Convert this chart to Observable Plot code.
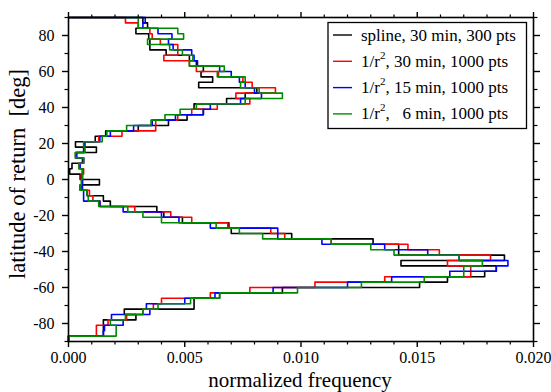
<!DOCTYPE html>
<html><head><meta charset="utf-8">
<script src="https://cdn.jsdelivr.net/npm/d3@7"></script>
<script src="https://cdn.jsdelivr.net/npm/@observablehq/plot@0.6"></script>
<style>
body{margin:0;background:#fff;}
#chart{width:551px;height:392px;}
</style></head><body><div id="chart"></div>
<script>
// Histogram bins: 3-degree latitude bins from +90 (top) down to -90
const latTop = 90;
const binWidth = 3;

const legendLabels = ["spline, 30 min, 300 pts", "30 min, 1000 pts", "15 min, 1000 pts", "  6 min, 1000 pts"];
const seriesColors = ["#000000", "#ff0000", "#0000ff", "#008b00"];

const splineValues = [0.0032,0.0034,0.0029,0.00345,0.0035,0.0035,0.0042,0.0052,0.0055,0.0058,0.0057,0.0062,0.0056,0.0081,0.0076,0.0068,0.0054,0.0058,0.0051,0.0043,0.0030,0.0016,0.00115,0.0003,0.0012,0.0003,0.0006,0.00015,0.00005,0.0005,0.00133,0.0005,0.0008,0.0015,0.0018,0.0038,0.0041,0.0049,0.0069,0.0070,0.0096,0.0131,0.0142,0.0142,0.01875,0.0143,0.0184,0.0179,0.0163,0.0151,0.0092,0.0065,0.0054,0.0054,0.0024,0.0029,0.0015,0.0015,0.0015,0];
const r2_30minValues = [0.00245,0.0030,0.0035,0.0036,0.00395,0.0047,0.0047,0.0041,0.0052,0.0055,0.00645,0.0075,0.0079,0.0089,0.0072,0.0078,0.0064,0.0053,0.0047,0.00375,0.00375,0.0023,0.0013,0.0007,0.0007,0.00035,0.00065,0.00045,0.00065,0.00055,0.0006,0.00055,0.0009,0.00105,0.00135,0.00285,0.0044,0.0053,0.00685,0.0087,0.0093,0.0113,0.0146,0.01595,0.01815,0.0163,0.0173,0.0173,0.0136,0.0106,0.0078,0.0061,0.0040,0.00365,0.0032,0.0025,0.0017,0.0012,0.0012,0];
const r2_15minValues = [0.0033,0.0032,0.00385,0.00445,0.0043,0.0045,0.0053,0.0054,0.00555,0.0065,0.0070,0.00735,0.0076,0.0080,0.0083,0.0074,0.0061,0.0058,0.0046,0.0036,0.0028,0.0018,0.00135,0.0007,0.00065,0.00035,0.00065,0.0005,0.0006,0.0006,0.0006,0.0006,0.00065,0.00065,0.00135,0.00235,0.0040,0.00475,0.0061,0.0090,0.0090,0.0109,0.0136,0.01545,0.0168,0.0189,0.0184,0.0164,0.0139,0.0120,0.0088,0.0063,0.0050,0.00335,0.0035,0.00185,0.00235,0.00155,0.0015,0];
const r2_6minValues = [0.0030,0.0030,0.0047,0.00495,0.0034,0.00435,0.0049,0.00535,0.0052,0.0067,0.0064,0.0076,0.0074,0.0082,0.0092,0.0076,0.0055,0.0048,0.00415,0.00355,0.0025,0.00165,0.00145,0.00065,0.0007,0.0003,0.00065,0.00045,0.0006,0.0006,0.00055,0.0005,0.0008,0.00085,0.0013,0.00255,0.0032,0.0040,0.00635,0.00735,0.00835,0.0113,0.0130,0.0140,0.0168,0.0178,0.0170,0.0170,0.0153,0.0126,0.00985,0.0065,0.00525,0.00385,0.0032,0.00245,0.0018,0.00205,0.00205,0];

const xMajorTicks = [0, 0.005, 0.010, 0.015, 0.020];
const xMinorTicks = [0.001,0.002,0.003,0.004,0.006,0.007,0.008,0.009,0.011,0.012,0.013,0.014,0.016,0.017,0.018,0.019];
const yMajorTicks = [-80, -60, -40, -20, 0, 20, 40, 60, 80];
const yMinorTicks = [-90, -70, -50, -30, -10, 10, 30, 50, 70, 90];

const allSeries = [splineValues, r2_30minValues, r2_15minValues, r2_6minValues];

function stepPoints(values) {
  const pts = [{x: 0, y: latTop}];
  values.forEach((v, k) => {
    pts.push({x: v, y: latTop - k * binWidth});
    pts.push({x: v, y: latTop - (k + 1) * binWidth});
  });
  pts.push({x: 0, y: latTop - values.length * binWidth});
  return pts;
}

const font = "'Liberation Serif', 'Times New Roman', serif";
const blank = () => "";

const chart = Plot.plot({
  width: 551, height: 392,
  marginLeft: 68, marginRight: 18, marginTop: 17, marginBottom: 51,
  style: {fontFamily: font, fontSize: "16px", background: "white", color: "black", overflow: "visible"},
  x: {domain: [0, 0.02]},
  y: {domain: [-90, 90]},
  marks: [
    ...allSeries.map((vals, i) => Plot.line(stepPoints(vals), {x: "x", y: "y", stroke: seriesColors[i], strokeWidth: 1.6})),
    Plot.frame({stroke: "black", strokeWidth: 1.6}),
    Plot.axisX({ticks: xMajorTicks, tickSize: 6, tickPadding: 4, tickFormat: d3.format(".3f"), label: null, strokeWidth: 1.4}),
    Plot.axisX({ticks: xMinorTicks, tickSize: 3.5, tickFormat: blank, label: null, strokeWidth: 1.2}),
    Plot.axisX({anchor: "top", ticks: xMajorTicks, tickSize: 6, tickFormat: blank, label: null, strokeWidth: 1.4}),
    Plot.axisX({anchor: "top", ticks: xMinorTicks, tickSize: 3.5, tickFormat: blank, label: null, strokeWidth: 1.2}),
    Plot.axisY({ticks: yMajorTicks, tickSize: 6, tickPadding: 8, tickFormat: d => String(d), label: null, strokeWidth: 1.4}),
    Plot.axisY({ticks: yMinorTicks, tickSize: 3.5, tickFormat: blank, label: null, strokeWidth: 1.2}),
    Plot.axisY({anchor: "right", ticks: yMajorTicks, tickSize: 6, tickFormat: blank, label: null, strokeWidth: 1.4}),
    Plot.axisY({anchor: "right", ticks: yMinorTicks, tickSize: 3.5, tickFormat: blank, label: null, strokeWidth: 1.2})
  ]
});

document.getElementById("chart").appendChild(chart);

const svg = d3.select(chart);
// axis titles
svg.append("text")
  .attr("x", 300).attr("y", 387)
  .attr("text-anchor", "middle")
  .style("font-family", font).style("font-size", "21px").attr("fill", "black")
  .text("normalized frequency");
svg.append("text")
  .attr("transform", "translate(17,174) rotate(-90)")
  .attr("dy", "0.35em")
  .attr("text-anchor", "middle")
  .style("font-family", font).style("font-size", "22.5px").style("white-space", "pre").attr("fill", "black")
  .text("latitude of return  [deg]");

// legend
const lg = svg.append("g");
lg.append("rect").attr("x", 328).attr("y", 22.5).attr("width", 198.5).attr("height", 106)
  .attr("fill", "white").attr("stroke", "black").attr("stroke-width", 1.3);
legendLabels.forEach((lab, i) => {
  const cy = 35 + i * 26.3;
  lg.append("line").attr("x1", 333).attr("x2", 352).attr("y1", cy).attr("y2", cy)
    .attr("stroke", seriesColors[i]).attr("stroke-width", 1.4);
  const t = lg.append("text").attr("x", 361).attr("y", cy + 5.5)
    .attr("text-anchor", "start")
    .style("font-family", font).style("font-size", "17px").style("white-space", "pre").attr("fill", "black");
  if (i === 0) {
    t.text(lab);
  } else {
    t.append("tspan").text("1/r");
    t.append("tspan").attr("dy", -8).style("font-size", "11px").text("2");
    t.append("tspan").attr("dy", 8).text(", " + lab);
  }
});
</script>
</body></html>
